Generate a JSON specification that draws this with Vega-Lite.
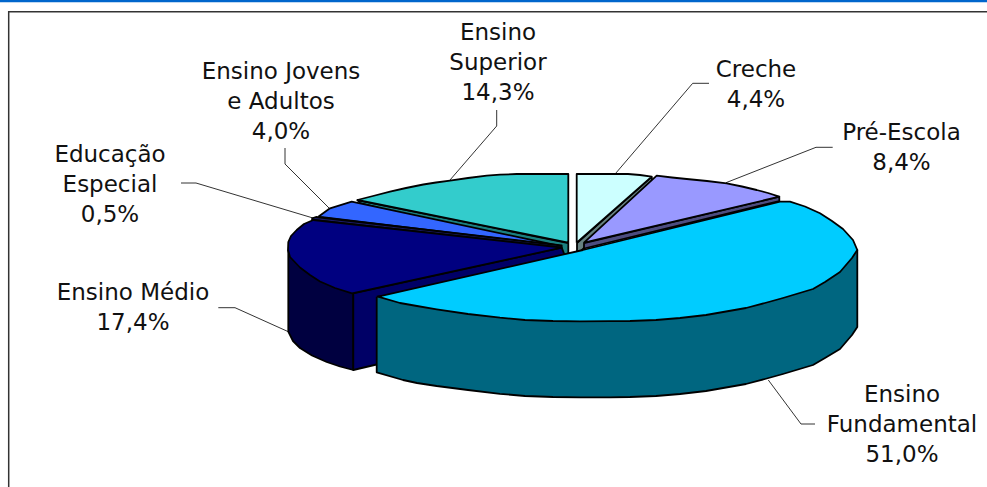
{"$schema":"https://vega.github.io/schema/vega-lite/v6.json","width":987,"height":487,"padding":0,"autosize":{"type":"none"},"background":"white","view":{"stroke":null},
"datasets":{
"faces":[
{"face":"Superior lado","seq":1,"x":357.3,"y":200},{"face":"Superior lado","seq":2,"x":568.3,"y":243},{"face":"Superior lado","seq":3,"x":568.3,"y":255},{"face":"Superior lado","seq":4,"x":563,"y":255},{"face":"Superior lado","seq":5,"x":360,"y":203},{"face":"Superior lado","seq":6,"x":357.3,"y":200},
{"face":"Superior topo","seq":1,"x":568.3,"y":242.7},{"face":"Superior topo","seq":2,"x":568.3,"y":174},{"face":"Superior topo","seq":3,"x":516.7,"y":174},{"face":"Superior topo","seq":4,"x":500,"y":174.7},{"face":"Superior topo","seq":5,"x":486.7,"y":175.7},{"face":"Superior topo","seq":6,"x":468,"y":178},{"face":"Superior topo","seq":7,"x":450,"y":180.7},{"face":"Superior topo","seq":8,"x":436,"y":182.5},{"face":"Superior topo","seq":9,"x":423.3,"y":184.5},{"face":"Superior topo","seq":10,"x":406,"y":188},{"face":"Superior topo","seq":11,"x":390,"y":191.7},{"face":"Superior topo","seq":12,"x":373,"y":196},{"face":"Superior topo","seq":13,"x":357.3,"y":200},{"face":"Superior topo","seq":14,"x":568.3,"y":242.7},
{"face":"Jovens topo","seq":1,"x":318.3,"y":216.7},{"face":"Jovens topo","seq":2,"x":330,"y":208.3},{"face":"Jovens topo","seq":3,"x":351.7,"y":201.7},{"face":"Jovens topo","seq":4,"x":560,"y":246},{"face":"Jovens topo","seq":5,"x":318.3,"y":216.7},
{"face":"Especial topo","seq":1,"x":311.5,"y":218.5},{"face":"Especial topo","seq":2,"x":316,"y":217},{"face":"Especial topo","seq":3,"x":561.7,"y":245.5},{"face":"Especial topo","seq":4,"x":561.7,"y":247.7},{"face":"Especial topo","seq":5,"x":313,"y":220},{"face":"Especial topo","seq":6,"x":311.5,"y":218.5},
{"face":"Medio lado","seq":1,"x":288.3,"y":250},{"face":"Medio lado","seq":2,"x":288.3,"y":331.7},{"face":"Medio lado","seq":3,"x":293,"y":341},{"face":"Medio lado","seq":4,"x":300,"y":348},{"face":"Medio lado","seq":5,"x":312,"y":355.5},{"face":"Medio lado","seq":6,"x":326.7,"y":362},{"face":"Medio lado","seq":7,"x":340,"y":366.5},{"face":"Medio lado","seq":8,"x":353.3,"y":370},{"face":"Medio lado","seq":9,"x":353.3,"y":293.3},{"face":"Medio lado","seq":10,"x":288.3,"y":250},
{"face":"Medio corte","seq":1,"x":353.3,"y":293.3},{"face":"Medio corte","seq":2,"x":561.7,"y":247.7},{"face":"Medio corte","seq":3,"x":565,"y":256},{"face":"Medio corte","seq":4,"x":565,"y":320},{"face":"Medio corte","seq":5,"x":353.3,"y":370},{"face":"Medio corte","seq":6,"x":353.3,"y":293.3},
{"face":"Medio topo","seq":1,"x":561.7,"y":247.7},{"face":"Medio topo","seq":2,"x":313.3,"y":220},{"face":"Medio topo","seq":3,"x":304,"y":224},{"face":"Medio topo","seq":4,"x":296.7,"y":230},{"face":"Medio topo","seq":5,"x":291,"y":236},{"face":"Medio topo","seq":6,"x":288.3,"y":242},{"face":"Medio topo","seq":7,"x":288,"y":250},{"face":"Medio topo","seq":8,"x":290,"y":257},{"face":"Medio topo","seq":9,"x":300,"y":267.5},{"face":"Medio topo","seq":10,"x":310,"y":275},{"face":"Medio topo","seq":11,"x":320,"y":281.5},{"face":"Medio topo","seq":12,"x":335,"y":288},{"face":"Medio topo","seq":13,"x":352,"y":293.3},{"face":"Medio topo","seq":14,"x":561.7,"y":247.7},
{"face":"Creche lado","seq":1,"x":651.7,"y":176.7},{"face":"Creche lado","seq":2,"x":652,"y":181},{"face":"Creche lado","seq":3,"x":581,"y":251},{"face":"Creche lado","seq":4,"x":577,"y":256},{"face":"Creche lado","seq":5,"x":577,"y":243},{"face":"Creche lado","seq":6,"x":651.7,"y":176.7},
{"face":"Creche topo","seq":1,"x":576.7,"y":242.7},{"face":"Creche topo","seq":2,"x":576.7,"y":174},{"face":"Creche topo","seq":3,"x":628,"y":174},{"face":"Creche topo","seq":4,"x":640,"y":175},{"face":"Creche topo","seq":5,"x":651.7,"y":176.7},{"face":"Creche topo","seq":6,"x":576.7,"y":242.7},
{"face":"Pre lado","seq":1,"x":779.3,"y":196.7},{"face":"Pre lado","seq":2,"x":779.3,"y":201},{"face":"Pre lado","seq":3,"x":584,"y":248.5},{"face":"Pre lado","seq":4,"x":584,"y":243},{"face":"Pre lado","seq":5,"x":779.3,"y":196.7},
{"face":"Pre topo","seq":1,"x":584,"y":242.7},{"face":"Pre topo","seq":2,"x":656.7,"y":175.7},{"face":"Pre topo","seq":3,"x":672,"y":177.5},{"face":"Pre topo","seq":4,"x":686.7,"y":179},{"face":"Pre topo","seq":5,"x":707,"y":181},{"face":"Pre topo","seq":6,"x":726.7,"y":183.3},{"face":"Pre topo","seq":7,"x":742,"y":186.5},{"face":"Pre topo","seq":8,"x":756.7,"y":190},{"face":"Pre topo","seq":9,"x":768,"y":193},{"face":"Pre topo","seq":10,"x":779.3,"y":196.7},{"face":"Pre topo","seq":11,"x":584,"y":242.7},
{"face":"Fundamental lado","seq":1,"x":376.7,"y":296.7},{"face":"Fundamental lado","seq":2,"x":376.7,"y":372.3},{"face":"Fundamental lado","seq":3,"x":403,"y":380},{"face":"Fundamental lado","seq":4,"x":417,"y":383},{"face":"Fundamental lado","seq":5,"x":436.7,"y":386},{"face":"Fundamental lado","seq":6,"x":468,"y":390},{"face":"Fundamental lado","seq":7,"x":500,"y":393.8},{"face":"Fundamental lado","seq":8,"x":525,"y":396},{"face":"Fundamental lado","seq":9,"x":553,"y":397},{"face":"Fundamental lado","seq":10,"x":580,"y":397.3},{"face":"Fundamental lado","seq":11,"x":610,"y":397.3},{"face":"Fundamental lado","seq":12,"x":630,"y":397},{"face":"Fundamental lado","seq":13,"x":656,"y":396},{"face":"Fundamental lado","seq":14,"x":680,"y":394},{"face":"Fundamental lado","seq":15,"x":706,"y":391},{"face":"Fundamental lado","seq":16,"x":726,"y":387.5},{"face":"Fundamental lado","seq":17,"x":746,"y":384},{"face":"Fundamental lado","seq":18,"x":765,"y":379},{"face":"Fundamental lado","seq":19,"x":783,"y":374},{"face":"Fundamental lado","seq":20,"x":798,"y":369.5},{"face":"Fundamental lado","seq":21,"x":813,"y":365},{"face":"Fundamental lado","seq":22,"x":825,"y":358},{"face":"Fundamental lado","seq":23,"x":840,"y":349},{"face":"Fundamental lado","seq":24,"x":852,"y":335},{"face":"Fundamental lado","seq":25,"x":857.3,"y":327},{"face":"Fundamental lado","seq":26,"x":857.3,"y":250},{"face":"Fundamental lado","seq":27,"x":376.7,"y":296.7},
{"face":"Fundamental topo","seq":1,"x":583,"y":250},{"face":"Fundamental topo","seq":2,"x":780,"y":201.7},{"face":"Fundamental topo","seq":3,"x":790,"y":201.7},{"face":"Fundamental topo","seq":4,"x":805,"y":206.5},{"face":"Fundamental topo","seq":5,"x":820,"y":213.3},{"face":"Fundamental topo","seq":6,"x":832,"y":221},{"face":"Fundamental topo","seq":7,"x":843,"y":229},{"face":"Fundamental topo","seq":8,"x":853,"y":240},{"face":"Fundamental topo","seq":9,"x":857.3,"y":250},{"face":"Fundamental topo","seq":10,"x":852,"y":258},{"face":"Fundamental topo","seq":11,"x":840,"y":272},{"face":"Fundamental topo","seq":12,"x":825,"y":282},{"face":"Fundamental topo","seq":13,"x":813,"y":289},{"face":"Fundamental topo","seq":14,"x":798,"y":293.5},{"face":"Fundamental topo","seq":15,"x":783,"y":298},{"face":"Fundamental topo","seq":16,"x":765,"y":303},{"face":"Fundamental topo","seq":17,"x":746,"y":308},{"face":"Fundamental topo","seq":18,"x":726,"y":311.5},{"face":"Fundamental topo","seq":19,"x":706,"y":315},{"face":"Fundamental topo","seq":20,"x":680,"y":318},{"face":"Fundamental topo","seq":21,"x":656,"y":320},{"face":"Fundamental topo","seq":22,"x":630,"y":321},{"face":"Fundamental topo","seq":23,"x":610,"y":321.2},{"face":"Fundamental topo","seq":24,"x":580,"y":321.3},{"face":"Fundamental topo","seq":25,"x":553,"y":321},{"face":"Fundamental topo","seq":26,"x":525,"y":320},{"face":"Fundamental topo","seq":27,"x":500,"y":317.7},{"face":"Fundamental topo","seq":28,"x":468,"y":314},{"face":"Fundamental topo","seq":29,"x":436.7,"y":309.3},{"face":"Fundamental topo","seq":30,"x":417,"y":306},{"face":"Fundamental topo","seq":31,"x":400,"y":303},{"face":"Fundamental topo","seq":32,"x":378,"y":296.7},{"face":"Fundamental topo","seq":33,"x":583,"y":250}
],
"leaders":[
{"slice":"Superior","seq":1,"x":496.7,"y":110},{"slice":"Superior","seq":2,"x":496.7,"y":126},{"slice":"Superior","seq":3,"x":450,"y":180},
{"slice":"Jovens","seq":1,"x":285,"y":148},{"slice":"Jovens","seq":2,"x":285,"y":164},{"slice":"Jovens","seq":3,"x":329,"y":208},
{"slice":"Especial","seq":1,"x":181,"y":183},{"slice":"Especial","seq":2,"x":196,"y":183},{"slice":"Especial","seq":3,"x":313,"y":218},
{"slice":"Creche","seq":1,"x":709,"y":83.3},{"slice":"Creche","seq":2,"x":692.7,"y":83.3},{"slice":"Creche","seq":3,"x":615.7,"y":173.3},
{"slice":"Pre","seq":1,"x":832.7,"y":147.3},{"slice":"Pre","seq":2,"x":816,"y":147.3},{"slice":"Pre","seq":3,"x":726,"y":182.7},
{"slice":"Medio","seq":1,"x":218.3,"y":307.7},{"slice":"Medio","seq":2,"x":235,"y":307.7},{"slice":"Medio","seq":3,"x":288.3,"y":331.7},
{"slice":"Fundamental","seq":1,"x":815,"y":424},{"slice":"Fundamental","seq":2,"x":801,"y":424},{"slice":"Fundamental","seq":3,"x":768.3,"y":380}
],
"frame":[{"seq":1,"x":8.7,"y":487},{"seq":2,"x":8.7,"y":11.7},{"seq":3,"x":987,"y":11.7}],
"labels":[
{"label":"Ensino\nSuperior\n14,3%","x":498,"y":33},
{"label":"Ensino Jovens\ne Adultos\n4,0%","x":281,"y":72},
{"label":"Educação\nEspecial\n0,5%","x":110,"y":155},
{"label":"Creche\n4,4%","x":756,"y":70},
{"label":"Pré-Escola\n8,4%","x":901.5,"y":133},
{"label":"Ensino Médio\n17,4%","x":133,"y":293},
{"label":"Ensino\nFundamental\n51,0%","x":902,"y":395}
],
"bar":[{"y":1}]
},
"layer":[
{"data":{"name":"bar"},"mark":{"type":"rule","color":"#0066cc","strokeWidth":2.5},"encoding":{"y":{"field":"y","type":"quantitative","scale":{"domain":[487,0],"nice":false,"zero":false},"axis":null}}},
{"data":{"name":"frame"},"mark":{"type":"line","color":"#333333","strokeWidth":1.5},"encoding":{
"x":{"field":"x","type":"quantitative","scale":{"domain":[0,987],"nice":false,"zero":false},"axis":null},
"y":{"field":"y","type":"quantitative","scale":{"domain":[487,0],"nice":false,"zero":false},"axis":null},
"order":{"field":"seq","type":"quantitative"}}},
{"data":{"name":"leaders"},"mark":{"type":"line","color":"#333333","strokeWidth":1,"interpolate":"linear"},"encoding":{
"x":{"field":"x","type":"quantitative","scale":{"domain":[0,987],"nice":false,"zero":false},"axis":null},
"y":{"field":"y","type":"quantitative","scale":{"domain":[487,0],"nice":false,"zero":false},"axis":null},
"detail":{"field":"slice"},"order":{"field":"seq","type":"quantitative"}}},
{"data":{"name":"faces"},"mark":{"type":"line","stroke":"black","strokeWidth":1.8,"strokeJoin":"round"},"encoding":{
"x":{"field":"x","type":"quantitative","scale":{"domain":[0,987],"nice":false,"zero":false},"axis":null},
"y":{"field":"y","type":"quantitative","scale":{"domain":[487,0],"nice":false,"zero":false},"axis":null},
"fill":{"field":"face","type":"nominal","legend":null,"sort":null,"scale":{
"domain":["Superior lado","Superior topo","Jovens topo","Especial topo","Medio lado","Medio corte","Medio topo","Creche lado","Creche topo","Pre lado","Pre topo","Fundamental lado","Fundamental topo"],
"range":["#1a8080","#33cccc","#3366ff","#1a1a66","#000040","#000066","#000080","#668080","#ccffff","#4d4d80","#9999ff","#006680","#00ccff"]}},
"detail":{"field":"face"},"order":{"field":"seq","type":"quantitative"}}},
{"data":{"name":"labels"},"mark":{"type":"text","font":"DejaVu Sans","fontSize":23,"lineHeight":30,"lineBreak":"\n","align":"center","baseline":"middle","color":"#111111"},"encoding":{
"x":{"field":"x","type":"quantitative","scale":{"domain":[0,987],"nice":false,"zero":false},"axis":null},
"y":{"field":"y","type":"quantitative","scale":{"domain":[487,0],"nice":false,"zero":false},"axis":null},
"text":{"field":"label","type":"nominal"}}}
]}
